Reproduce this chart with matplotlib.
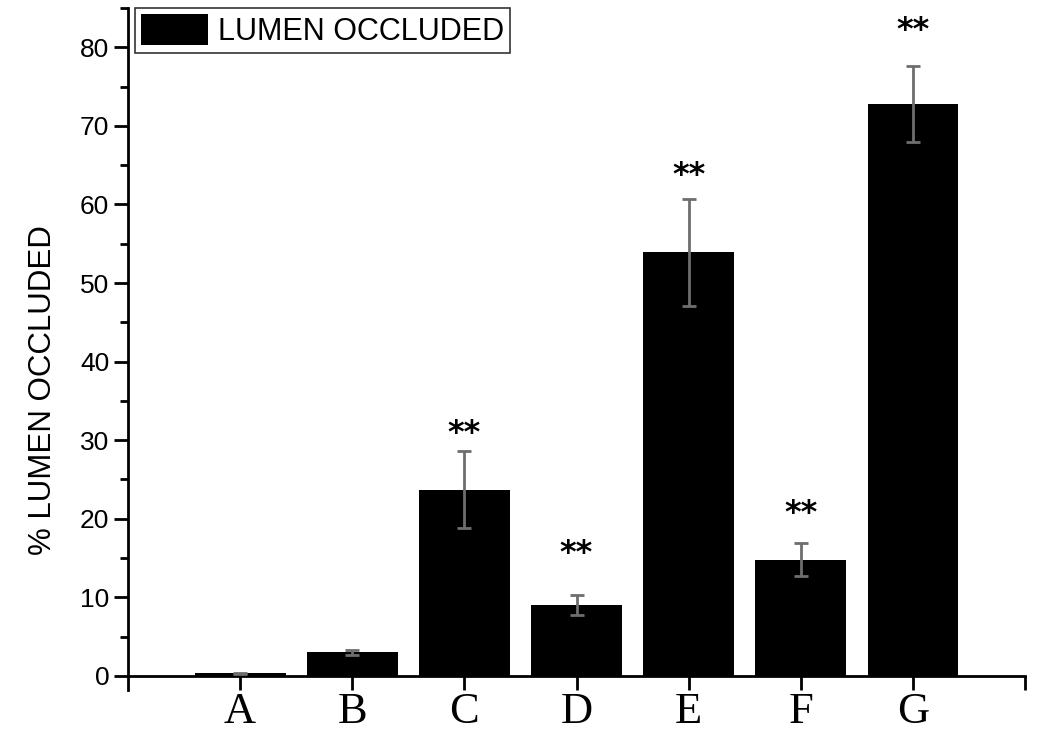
import matplotlib.pyplot as plt
from matplotlib.ticker import MultipleLocator

# data
groups = ['A', 'B', 'C', 'D', 'E', 'F', 'G']
occluded = [0.3, 3.0, 23.7, 9.0, 53.9, 14.8, 72.8]
errors = [0.1, 0.3, 4.9, 1.3, 6.8, 2.1, 4.8]
star_y = [None, None, 30.9, 15.6, 63.7, 20.7, 82.1]

fig = plt.figure(figsize=(10.63, 7.33), dpi=100)
ax = fig.add_axes([0.1204, 0.0587, 0.8439, 0.9303])

xpos = list(range(1, len(groups) + 1))
ax.bar(xpos, occluded, width=0.81, color='black', label='LUMEN OCCLUDED', zorder=2)
ax.errorbar(xpos, occluded, yerr=errors, fmt='none', ecolor='#6e6e6e',
            elinewidth=2, capsize=5, capthick=2, zorder=3)

# significance marks
for x, y in zip(xpos, star_y):
    if y is not None:
        ax.text(x, y, '**', ha='center', va='center', fontsize=23,
                family='DejaVu Sans', fontweight='bold')

ax.set_xlim(0, 8)
ax.set_ylim(-1.8, 85)
ax.spines['top'].set_visible(False)
ax.spines['right'].set_visible(False)
ax.spines['bottom'].set_position(('data', 0))
for s in ('left', 'bottom'):
    ax.spines[s].set_linewidth(2)

ax.set_xticks(xpos + [8])
ax.set_xticklabels(groups + [''], family='Liberation Serif', fontsize=32)
ax.tick_params(axis='x', direction='out', length=10, width=2, pad=2)
ax.yaxis.set_major_locator(MultipleLocator(10))
ax.yaxis.set_minor_locator(MultipleLocator(5))
ax.set_yticks(range(0, 90, 10))
ax.tick_params(axis='y', which='major', direction='out', length=10, width=2,
               labelsize=19)
ax.tick_params(axis='y', which='minor', direction='out', length=6, width=2)
for lab in ax.get_yticklabels():
    lab.set_family('Liberation Sans')

ax.set_ylabel('% LUMEN OCCLUDED', fontsize=22.5, family='Liberation Sans')
ax.yaxis.set_label_coords(-0.078, 0.44)

leg = ax.legend(loc='upper left', bbox_to_anchor=(0.008, 1.0),
                prop={'family': 'Liberation Sans', 'size': 22},
                frameon=True, fancybox=False, edgecolor='black',
                handlelength=2.2, handleheight=1.2, borderpad=0.2,
                handletextpad=0.3, borderaxespad=0.0)
leg.get_frame().set_linewidth(1.2)

fig.savefig('out.png', dpi=100)
